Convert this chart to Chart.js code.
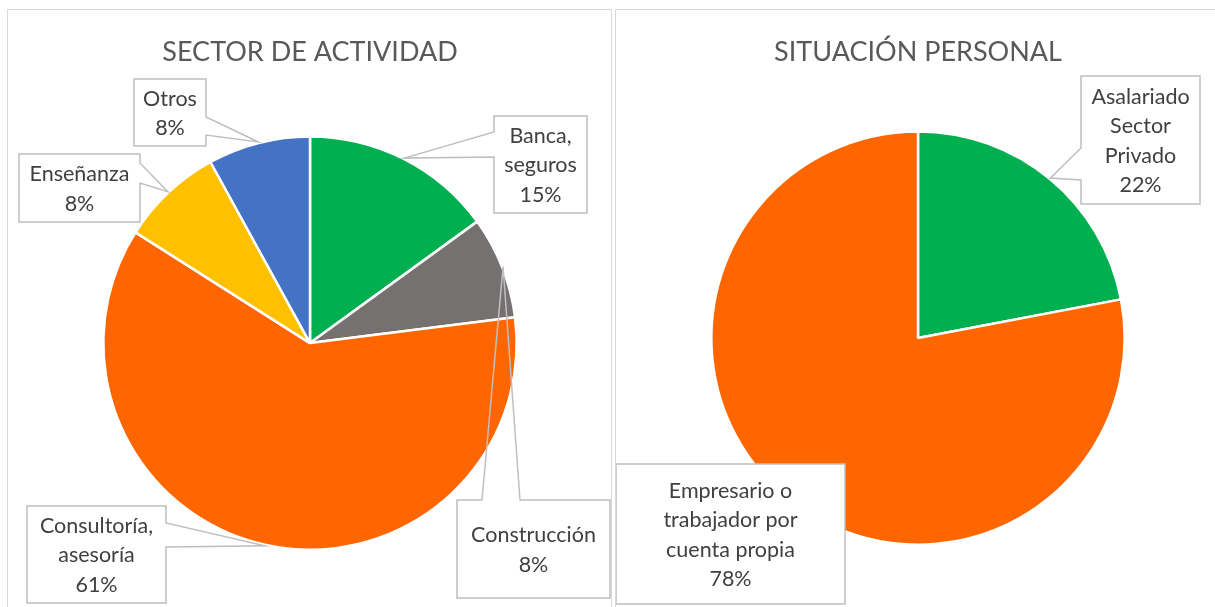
<!DOCTYPE html>
<html>
<head>
<meta charset="utf-8">
<script src="https://cdn.jsdelivr.net/npm/chart.js@4"></script>
<style>
    body { margin: 0; background: #fff; width: 1215px; height: 607px; overflow: hidden; position: relative; }
    .panel { position: absolute; border: 1px solid #d9d9d9; background: #fff; }
    #panel-left { left: 7px; top: 9px; width: 603px; height: 620px; }
    #panel-right { left: 615px; top: 9px; width: 620px; height: 620px; }
    canvas { display: block; }
</style>
</head>
<body>
<div class="panel" id="panel-left"><canvas id="sectorChart" width="603" height="597"></canvas></div>
<div class="panel" id="panel-right"><canvas id="situacionChart" width="599" height="597"></canvas></div>

<script>
// data
const sectorLabels = [['Banca,', 'seguros'], ['Construcción'], ['Consultoría,', 'asesoría'], ['Enseñanza'], ['Otros']];
const sectorValues = [15, 8, 61, 8, 8];
const sectorColors = ['#00B050', '#767171', '#FF6600', '#FFC000', '#4472C4'];

const situacionLabels = [['Asalariado', 'Sector', 'Privado'], ['Empresario o', 'trabajador por', 'cuenta propia']];
const situacionValues = [22, 78];
const situacionColors = ['#00B050', '#FF6600'];

// callout boxes (canvas px), pointer base offsets along the chosen side
const sectorCallouts = [
    { x: 486, y: 106, w: 93, h: 97, side: 'left', base: [16, 41] },
    { x: 449, y: 490, w: 153, h: 98, side: 'top', base: [25, 63] },
    { x: 19, y: 496, w: 139, h: 97, side: 'right', base: [17, 41] },
    { x: 11, y: 144, w: 121, h: 68, side: 'right', base: [9, 29] },
    { x: 126, y: 69, w: 72, h: 67, side: 'right', base: [38, 56] }
];
const situacionCallouts = [
    { x: 465, y: 66, w: 119, h: 128, side: 'left', base: [72, 104] },
    { x: 0, y: 454, w: 229, h: 140, side: null, base: null }
];

const calloutPlugin = {
    id: 'callouts',
    afterDatasetsDraw(chart, args, opts) {
        const ctx = chart.ctx;
        const meta = chart.getDatasetMeta(0);
        const ds = chart.data.datasets[0];
        ctx.save();
        opts.boxes.forEach((b, i) => {
            const arc = meta.data[i];
            const p = arc.getProps(['x', 'y', 'startAngle', 'endAngle', 'outerRadius'], true);
            const mid = (p.startAngle + p.endAngle) / 2;
            const tx = p.x + Math.cos(mid) * (p.outerRadius + 1);
            const ty = p.y + Math.sin(mid) * (p.outerRadius + 1);

            ctx.fillStyle = '#fff';
            ctx.fillRect(b.x, b.y, b.w, b.h);

            const { x, y, w, h, side, base } = b;
            ctx.beginPath();
            ctx.moveTo(x, y);
            if (side === 'top') { ctx.lineTo(x + base[0], y); ctx.lineTo(tx, ty); ctx.lineTo(x + base[1], y); }
            ctx.lineTo(x + w, y);
            if (side === 'right') { ctx.lineTo(x + w, y + base[0]); ctx.lineTo(tx, ty); ctx.lineTo(x + w, y + base[1]); }
            ctx.lineTo(x + w, y + h);
            if (side === 'bottom') { ctx.lineTo(x + base[1], y + h); ctx.lineTo(tx, ty); ctx.lineTo(x + base[0], y + h); }
            ctx.lineTo(x, y + h);
            if (side === 'left') { ctx.lineTo(x, y + base[1]); ctx.lineTo(tx, ty); ctx.lineTo(x, y + base[0]); }
            ctx.closePath();
            ctx.strokeStyle = '#bfbfbf';
            ctx.lineWidth = 1.5;
            ctx.stroke();

            const lines = [...chart.data.labels[i], ds.data[i] + '%'];
            const lh = 29.3;
            const cy = y + h / 2 - (lines.length - 1) * lh / 2 + 1;
            ctx.fillStyle = '#404040';
            ctx.font = '21.5px Lato';
            ctx.textAlign = 'center';
            ctx.textBaseline = 'middle';
            lines.forEach((t, k) => ctx.fillText(t, x + w / 2, cy + k * lh));
        });
        ctx.restore();
    }
};

function makePie(id, title, labels, values, colors, callouts, padding, titleBottom) {
    return new Chart(document.getElementById(id), {
        type: 'pie',
        data: {
            labels: labels,
            datasets: [{
                data: values,
                backgroundColor: colors,
                borderColor: '#fff',
                borderWidth: 2.5
            }]
        },
        options: {
            responsive: false,
            animation: false,
            devicePixelRatio: 1,
            layout: { padding: padding },
            plugins: {
                legend: { display: false },
                tooltip: { enabled: false },
                title: {
                    display: true,
                    text: title,
                    color: '#595959',
                    font: { family: 'Lato', size: 27, weight: 'normal' },
                    padding: { top: 26, bottom: titleBottom }
                },
                callouts: { boxes: callouts }
            }
        },
        plugins: [calloutPlugin]
    });
}

document.fonts.load('20px Lato').then(() => {
    makePie('sectorChart', 'SECTOR DE ACTIVIDAD', sectorLabels, sectorValues, sectorColors, sectorCallouts,
        { left: 94, right: 93, top: 0, bottom: 56 }, 66.8);
    makePie('situacionChart', 'SITUACIÓN PERSONAL', situacionLabels, situacionValues, situacionColors, situacionCallouts,
        { left: 94, right: 89, top: 0, bottom: 61 }, 61.8);
});
</script>
</body>
</html>
